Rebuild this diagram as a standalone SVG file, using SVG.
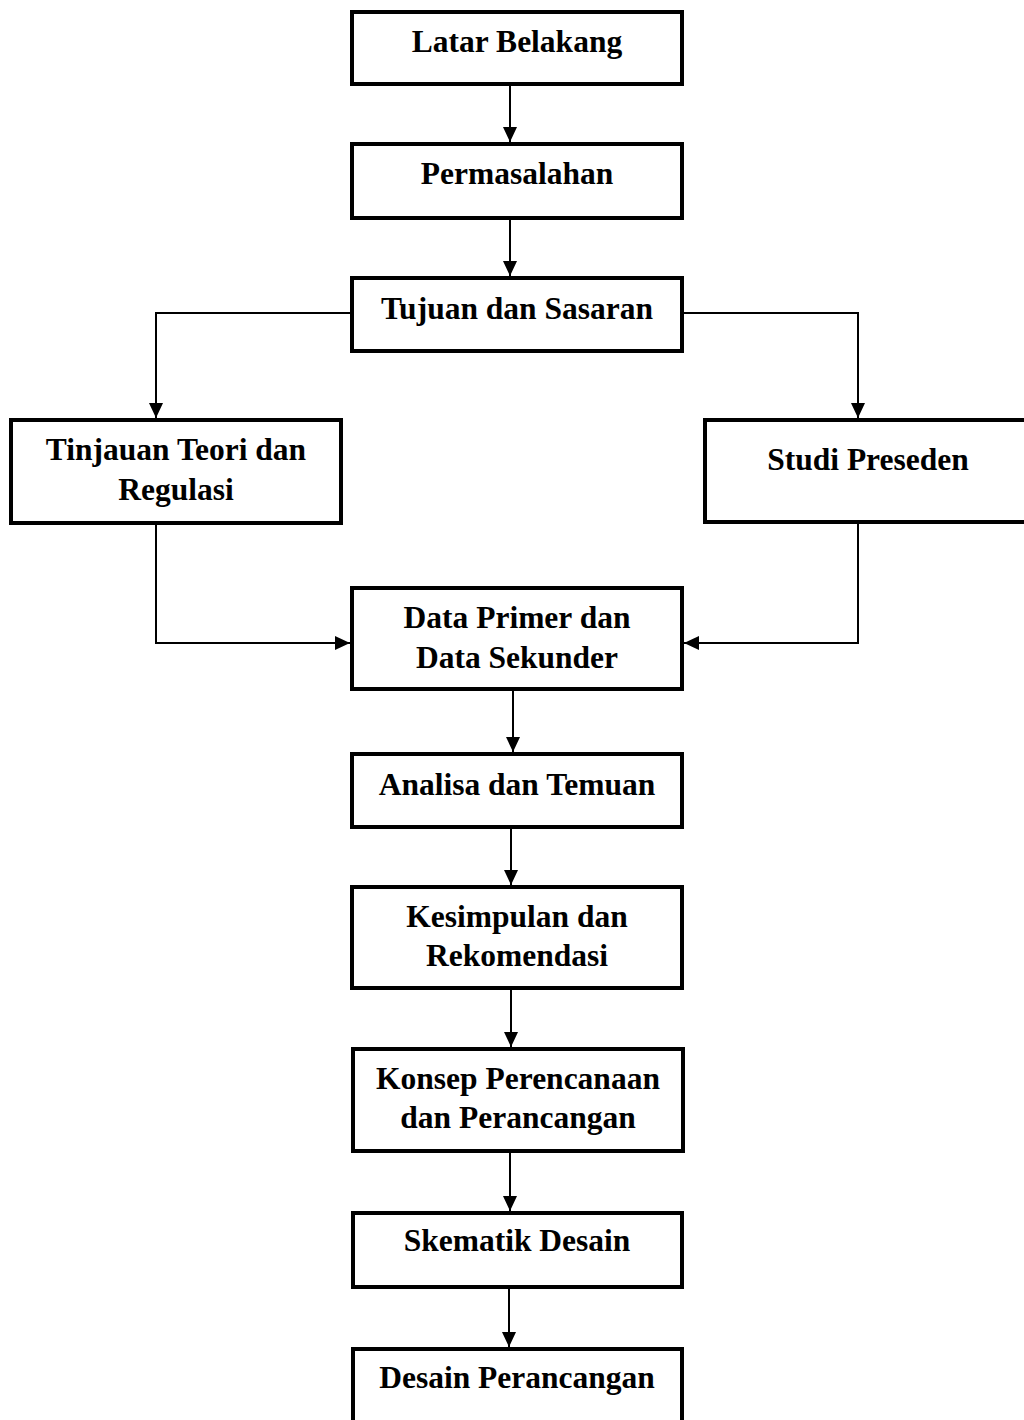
<svg xmlns="http://www.w3.org/2000/svg" width="1024" height="1420" viewBox="0 0 1024 1420">
<style>
.box{fill:#fff;stroke:#000;stroke-width:4}
.t{font-family:"Liberation Serif","Times New Roman",serif;font-weight:bold;font-size:31.5px;fill:#000;text-anchor:middle}
.c{fill:none;stroke:#000;stroke-width:2}
</style>
<defs>
<marker id="ah" markerUnits="userSpaceOnUse" viewBox="0 0 15 14" markerWidth="15" markerHeight="14" refX="15" refY="7" orient="auto">
<path d="M0,0 L15,7 L0,14 z" fill="#000"/>
</marker>
</defs>
<rect width="1024" height="1420" fill="#fff"/>
<g id="connectors">
<line class="c" x1="510" y1="86" x2="510" y2="142" marker-end="url(#ah)"/>
<line class="c" x1="510" y1="220" x2="510" y2="276" marker-end="url(#ah)"/>
<polyline class="c" points="350,313 156,313 156,418" marker-end="url(#ah)"/>
<polyline class="c" points="684,313 858,313 858,418" marker-end="url(#ah)"/>
<polyline class="c" points="156,525 156,643 350,643" marker-end="url(#ah)"/>
<polyline class="c" points="858,524 858,643 684,643" marker-end="url(#ah)"/>
<line class="c" x1="513" y1="691" x2="513" y2="752" marker-end="url(#ah)"/>
<line class="c" x1="511" y1="829" x2="511" y2="885" marker-end="url(#ah)"/>
<line class="c" x1="511" y1="990" x2="511" y2="1047" marker-end="url(#ah)"/>
<line class="c" x1="510" y1="1153" x2="510" y2="1211" marker-end="url(#ah)"/>
<line class="c" x1="509" y1="1289" x2="509" y2="1347" marker-end="url(#ah)"/>
</g>
<g id="n1"><rect class="box" x="352" y="12" width="330" height="72"/><text class="t" x="517" y="52">Latar Belakang</text></g>
<g id="n2"><rect class="box" x="352" y="144" width="330" height="74"/><text class="t" x="517" y="184">Permasalahan</text></g>
<g id="n3"><rect class="box" x="352" y="278" width="330" height="73"/><text class="t" x="517" y="319">Tujuan dan Sasaran</text></g>
<g id="n4"><rect class="box" x="11" y="420" width="330" height="103"/><text class="t" x="176" y="460">Tinjauan Teori dan</text><text class="t" x="176" y="500">Regulasi</text></g>
<g id="n5"><rect class="box" x="705" y="420" width="330" height="102"/><text class="t" x="868" y="470">Studi Preseden</text></g>
<g id="n6"><rect class="box" x="352" y="588" width="330" height="101"/><text class="t" x="517" y="628">Data Primer dan</text><text class="t" x="517" y="668">Data Sekunder</text></g>
<g id="n7"><rect class="box" x="352" y="754" width="330" height="73"/><text class="t" x="517" y="795">Analisa dan Temuan</text></g>
<g id="n8"><rect class="box" x="352" y="887" width="330" height="101"/><text class="t" x="517" y="927">Kesimpulan dan</text><text class="t" x="517" y="966">Rekomendasi</text></g>
<g id="n9"><rect class="box" x="353" y="1049" width="330" height="102"/><text class="t" x="518" y="1089">Konsep Perencanaan</text><text class="t" x="518" y="1128">dan Perancangan</text></g>
<g id="n10"><rect class="box" x="353" y="1213" width="329" height="74"/><text class="t" x="517" y="1251">Skematik Desain</text></g>
<g id="n11"><rect class="box" x="353" y="1349" width="329" height="100"/><text class="t" x="517" y="1388">Desain Perancangan</text></g>
</svg>
